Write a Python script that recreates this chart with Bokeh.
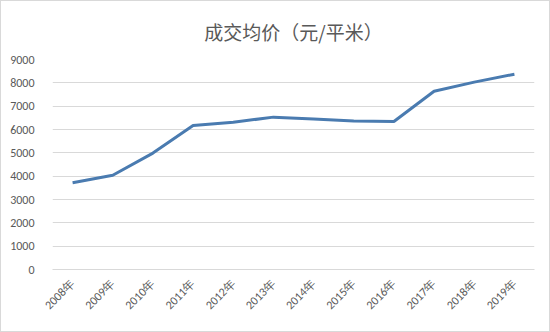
from bokeh.plotting import figure
from bokeh.embed import file_html
from bokeh.resources import INLINE
from bokeh.models import FixedTicker

years = ["2008年", "2009年", "2010年", "2011年", "2012年", "2013年",
         "2014年", "2015年", "2016年", "2017年", "2018年", "2019年"]
prices = [3720, 4040, 4990, 6170, 6310, 6530, 6450, 6360, 6340, 7640, 8030, 8370]
y_ticks = [0, 1000, 2000, 3000, 4000, 5000, 6000, 7000, 8000, 9000]
title_text = "成交均价（元/平米）"

p = figure(x_range=years, y_range=(0, 9000), width=548, height=330,
           output_backend="svg", toolbar_location=None, title=title_text)
p.styles = {"border": "1px solid #d9d9d9", "box-sizing": "content-box"}
p.min_border_left = 51
p.min_border_right = 17
p.min_border_top = 10
p.min_border_bottom = 64

p.title.align = "center"
p.title.text_font = "Noto Sans CJK SC"
p.title.text_font_size = "19px"
p.title.text_font_style = "normal"
p.title.text_color = "#595959"
p.title.offset = 0
p.title.standoff = 29

p.line(years, prices, line_color="#4a7bb0", line_width=3)

p.outline_line_color = None
p.background_fill_color = "white"
p.border_fill_color = "white"

p.yaxis.ticker = FixedTicker(ticks=y_ticks)
p.yaxis.axis_line_color = None
p.yaxis.major_tick_line_color = None
p.yaxis.minor_tick_line_color = None
p.yaxis.major_label_text_font = "Calibri, Liberation Sans, sans-serif"
p.yaxis.major_label_text_font_size = "12px"
p.yaxis.major_label_text_color = "#595959"
p.yaxis.major_label_standoff = 12

p.xaxis.axis_line_color = "#d9d9d9"
p.xaxis.major_tick_line_color = None
p.xaxis.minor_tick_line_color = None
p.xaxis.major_label_orientation = 0.785
p.xaxis.major_label_text_font = "Calibri, Liberation Sans, sans-serif"
p.xaxis.major_label_text_font_size = "12px"
p.xaxis.major_label_text_color = "#595959"
p.xaxis.major_label_standoff = 6

p.xgrid.grid_line_color = None
p.ygrid.grid_line_color = "#d9d9d9"
p.ygrid.grid_line_width = 1

p.x_range.range_padding = 0

open("out.html", "w").write(file_html(p, INLINE))
